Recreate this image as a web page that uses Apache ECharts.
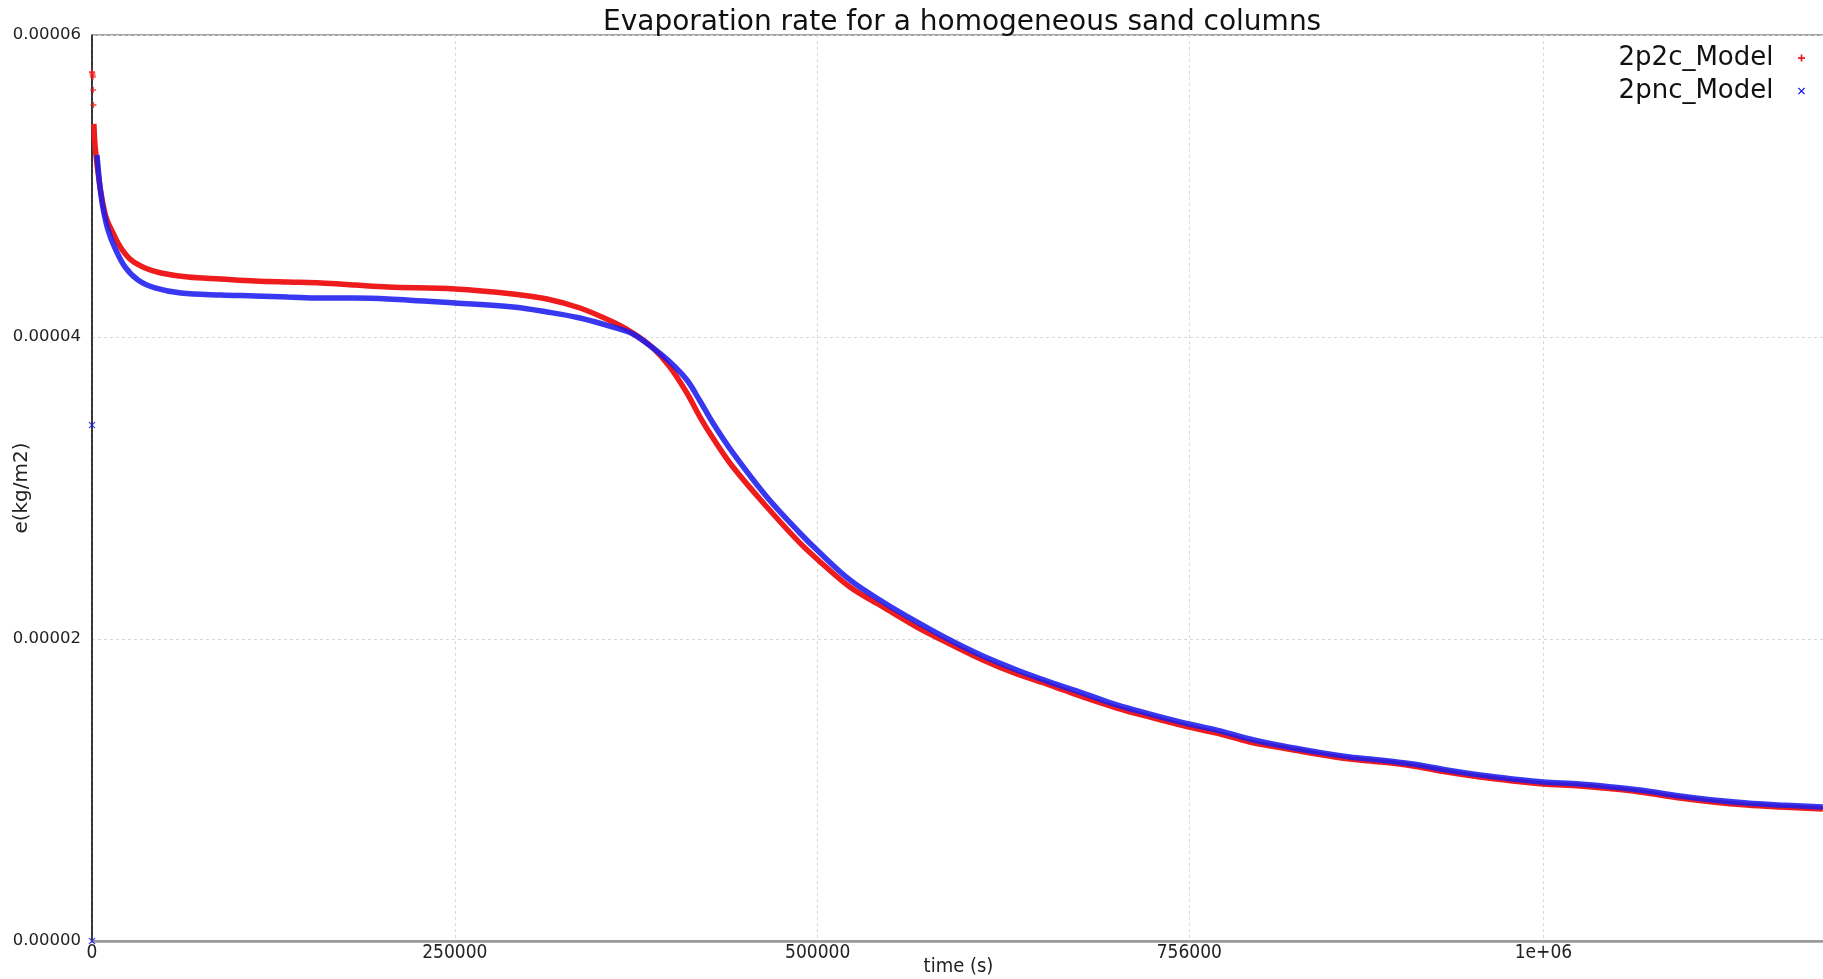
<!DOCTYPE html>
<html>
<head>
<meta charset="utf-8">
<script src="https://cdn.jsdelivr.net/npm/echarts@6/dist/echarts.min.js"></script>
<style>
  html, body { margin: 0; padding: 0; background: #fff; }
  #chart { width: 1823px; height: 979px; }
</style>
</head>
<body>
<div id="chart"></div>
<script>
// time (s) and evaporation rate e (kg/m2)
const xTicks = [0, 250000, 500000, 756000, 1000000];
const yTicks = [0, 0.00002, 0.00004, 0.00006];

// 2p2c_Model : isolated first outputs near t = 0, then the curve
const redStartT = [0, 200, 400, 600, 800, 1000];
const redStartE = [5.755e-5, 5.748e-5, 5.735e-5, 5.722e-5, 5.636e-5, 5.536e-5];
const redT = [1300, 2070, 4130, 6200, 9640, 14470, 19980, 26870, 36510, 47530,
  66130, 88870, 112300, 135000, 157800, 181200, 203900, 250000, 290000, 313500,
  336200, 358900, 372700, 386500, 398200, 409900, 418900, 427800, 441600, 465000,
  487700, 499500, 522200, 545000, 568300, 591100, 613800, 637200, 660000, 682700,
  706100, 728900, 755700, 775000, 797700, 820500, 843900, 866600, 887300, 910000,
  933400, 956200, 978900, 999600, 1025100, 1047800, 1066400, 1094000, 1116700, 1140100,
  1162900, 1192500];
const redE = [5.411, 5.272, 5.093, 4.954, 4.795, 4.689, 4.589, 4.510, 4.457, 4.424,
  4.397, 4.384, 4.371, 4.364, 4.358, 4.344, 4.331, 4.318, 4.285, 4.252,
  4.192, 4.099, 4.026, 3.927, 3.801, 3.629, 3.470, 3.331, 3.139, 2.874,
  2.636, 2.530, 2.344, 2.212, 2.079, 1.967, 1.861, 1.768, 1.695, 1.616,
  1.543, 1.483, 1.417, 1.377, 1.318, 1.278, 1.238, 1.205, 1.186, 1.159,
  1.119, 1.086, 1.060, 1.040, 1.027, 1.007, 0.987, 0.947, 0.921, 0.901,
  0.888, 0.874].map(v => v * 1e-5);

// 2pnc_Model
const blueStartT = [0, 0];
const blueStartE = [0, 3.417e-5];
const blueT = [3440, 5510, 7580, 11020, 15840, 22730, 31690, 43400, 61310, 88870,
  112300, 135000, 157800, 181200, 203900, 250000, 290000, 313500, 336200, 358900,
  372700, 386500, 398200, 409900, 418900, 427800, 441600, 465000, 487700, 499500,
  522200, 545000, 568300, 591100, 613800, 637200, 660000, 682700, 706100, 728900,
  755700, 775000, 797700, 820500, 843900, 866600, 887300, 910000, 933400, 956200,
  978900, 999600, 1025100, 1047800, 1066400, 1094000, 1116700, 1140100, 1162900, 1192500];
const blueE = [5.205, 4.993, 4.854, 4.709, 4.589, 4.464, 4.377, 4.325, 4.291, 4.278,
  4.272, 4.265, 4.258, 4.258, 4.252, 4.225, 4.199, 4.166, 4.126, 4.066,
  4.020, 3.927, 3.834, 3.715, 3.576, 3.430, 3.232, 2.940, 2.702, 2.589,
  2.391, 2.245, 2.113, 1.993, 1.887, 1.795, 1.715, 1.642, 1.563, 1.503,
  1.437, 1.397, 1.338, 1.291, 1.252, 1.219, 1.199, 1.172, 1.132, 1.099,
  1.073, 1.053, 1.040, 1.020, 1.000, 0.960, 0.934, 0.914, 0.901, 0.887].map(v => v * 1e-5);

const RED = '#ee1c1c';
const BLUE = '#1c1cee';
const PLUS = 'path://M3,0h2v3h3v2h-3v3h-2v-3h-3v-2h3z';
const CROSS = 'path://M1,0L4,3L7,0L8,1L5,4L8,7L7,8L4,5L1,8L0,7L3,4L0,1Z';

const zip = (xs, ys) => xs.map((x, i) => [x, ys[i]]);

const chart = echarts.init(document.getElementById('chart'));
chart.setOption({
  animation: false,
  textStyle: { fontFamily: 'DejaVu Sans' },
  title: {
    text: 'Evaporation rate for a homogeneous sand columns',
    left: 598,
    top: 4,
    textStyle: { fontSize: 28, fontWeight: 'normal', color: '#111', fontFamily: 'DejaVu Sans' },
  },
  legend: {
    orient: 'vertical',
    right: 13,
    top: 40,
    align: 'right',
    itemWidth: 46,
    itemHeight: 7,
    itemGap: 7,
    textStyle: { fontSize: 26, lineHeight: 26, color: '#111' },
    data: [
      { name: '2p2c_Model', icon: PLUS },
      { name: '2pnc_Model', icon: CROSS },
    ],
  },
  grid: {
    left: 92,
    right: -2,
    top: 35,
    bottom: 38,
    outerBoundsMode: 'none',
    containLabel: false,
    show: true,
    borderColor: '#444',
    borderWidth: 1,
  },
  xAxis: {
    type: 'value',
    min: 0,
    max: 1194000,
    name: 'time (s)',
    nameLocation: 'middle',
    nameGap: 16,
    nameMoveOverlap: false,
    nameTextStyle: { fontSize: 20, color: '#222', fontFamily: 'DejaVu Sans Condensed' },
    axisLine: { lineStyle: { color: '#999', width: 2.5 } },
    axisTick: { show: false, customValues: xTicks },
    axisLabel: {
      customValues: xTicks,
      margin: 3,
      fontSize: 19,
      color: '#222',
      fontFamily: 'DejaVu Sans Condensed',
      formatter: v => (v === 1000000 ? '1e+06' : String(v)),
    },
    splitLine: { show: true, lineStyle: { color: '#d8d8d8', type: [3, 3], width: 1 } },
  },
  yAxis: {
    type: 'value',
    min: 0,
    max: 0.00006,
    interval: 0.00002,
    name: 'e(kg/m2)',
    nameLocation: 'middle',
    nameGap: 60,
    nameMoveOverlap: false,
    nameTextStyle: { fontSize: 20, color: '#222' },
    axisLine: { show: true, lineStyle: { color: '#111', width: 1.5 } },
    axisTick: { show: false },
    axisLabel: {
      margin: 11,
      fontSize: 16.5,
      color: '#222',
      formatter: v => v.toFixed(5),
    },
    splitLine: { show: true, lineStyle: { color: '#d8d8d8', type: [3, 3], width: 1 } },
  },
  series: [
    {
      name: '2p2c_Model',
      type: 'line',
      data: zip(redT, redE),
      smooth: 0.35,
      showSymbol: false,
      itemStyle: { color: RED },
      lineStyle: { color: RED, width: 5.5 },
      z: 2,
    },
    {
      name: '2pnc_Model',
      type: 'line',
      data: zip(blueT, blueE),
      smooth: 0.35,
      showSymbol: false,
      itemStyle: { color: BLUE },
      lineStyle: { color: BLUE, width: 5.5, opacity: 0.88 },
      z: 3,
    },
    {
      name: '2p2c_Model',
      type: 'scatter',
      data: zip(redStartT, redStartE),
      symbol: PLUS,
      symbolSize: 6,
      itemStyle: { color: RED },
      z: 4,
    },
    {
      name: '2pnc_Model',
      type: 'scatter',
      data: zip(blueStartT, blueStartE),
      symbol: CROSS,
      symbolSize: 7,
      itemStyle: { color: BLUE },
      z: 4,
    },
  ],
});
</script>
</body>
</html>
